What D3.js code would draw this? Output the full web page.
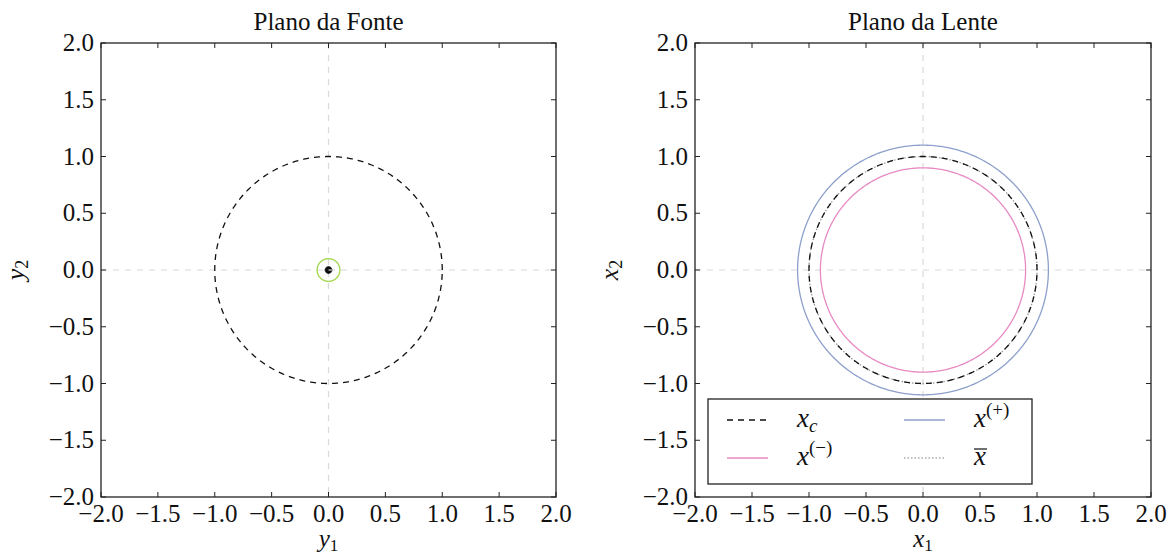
<!DOCTYPE html>
<html><head><meta charset="utf-8">
<script src="https://cdn.jsdelivr.net/npm/d3@7"></script>
<style>
html,body{margin:0;padding:0;background:#fff;}
text{font-family:"Liberation Serif","DejaVu Serif",serif;fill:#111;}
</style></head>
<body><svg id="c" width="1173" height="558"></svg>
<script>
// ---- data ----
const tickValues = [-2, -1.5, -1, -0.5, 0, 0.5, 1, 1.5, 2];
const tickLabels = ["−2.0","−1.5","−1.0","−0.5","0.0","0.5","1.0","1.5","2.0"];
const domain = [-2, 2];
const titles = ["Plano da Fonte", "Plano da Lente"];
const xLabels = [["y","1"], ["x","1"]];
const yLabels = [["y","2"], ["x","2"]];
// source plane
const causticRadius = [1.0];      // dashed caustic
const sourceRadius = [0.1];       // green source circle
const sourceCenterRadius = [0.03];// black center
// lens plane
const criticalRadius = [1.0];     // x_c
const imageMinusRadius = [0.9];   // x^(-)
const imagePlusRadius = [1.1];    // x^(+)
const meanRadius = [1.0];         // x̄
const legendItems = ["xc","xplus","xminus","xbar"];

const svg = d3.select("#c");
const angles = d3.range(0, 361, 1).map(d => d * Math.PI / 180);

const panels = [
  {x0: 101, x1: 556, y0: 43, y1: 497},
  {x0: 695, x1: 1151, y0: 43, y1: 497}
];

function circlePath(xs, ys, r) {
  return d3.line().x(a => xs(r * Math.cos(a))).y(a => ys(r * Math.sin(a)))(angles) + "Z";
}

panels.forEach((p, i) => {
  const xs = d3.scaleLinear().domain(domain).range([p.x0, p.x1]);
  const ys = d3.scaleLinear().domain(domain).range([p.y1, p.y0]);
  const g = svg.append("g");

  // zero lines
  g.append("line").attr("x1", xs(0)).attr("x2", xs(0)).attr("y1", ys(2)).attr("y2", ys(-2))
    .attr("stroke", "#d9d9d9").attr("stroke-width", 1.2).attr("stroke-dasharray", "6,6");
  g.append("line").attr("y1", ys(0)).attr("y2", ys(0)).attr("x1", xs(-2)).attr("x2", xs(2))
    .attr("stroke", "#d9d9d9").attr("stroke-width", 1.2).attr("stroke-dasharray", "6,6");

  if (i === 0) {
    causticRadius.forEach(r => g.append("path").attr("d", circlePath(xs, ys, r))
      .attr("fill", "none").attr("stroke", "#111").attr("stroke-width", 1.3).attr("stroke-dasharray", "6,5"));
    sourceRadius.forEach(r => g.append("path").attr("d", circlePath(xs, ys, r))
      .attr("fill", "none").attr("stroke", "#a6d854").attr("stroke-width", 1.4));
    sourceCenterRadius.forEach(r => {
      g.append("path").attr("d", circlePath(xs, ys, r)).attr("fill", "#111").attr("stroke", "#111").attr("stroke-width", 0.8);
      g.append("line").attr("x1", xs(0)).attr("x2", xs(r)).attr("y1", ys(0)).attr("y2", ys(0))
        .attr("stroke", "#fff").attr("stroke-width", 1);
    });
  } else {
    imagePlusRadius.forEach(r => g.append("path").attr("d", circlePath(xs, ys, r))
      .attr("fill", "none").attr("stroke", "#8da0cb").attr("stroke-width", 1.3));
    imageMinusRadius.forEach(r => g.append("path").attr("d", circlePath(xs, ys, r))
      .attr("fill", "none").attr("stroke", "#e78ac3").attr("stroke-width", 1.3));
    meanRadius.forEach(r => g.append("path").attr("d", circlePath(xs, ys, r))
      .attr("fill", "none").attr("stroke", "#999").attr("stroke-width", 1.3).attr("stroke-dasharray", "1.5,2"));
    criticalRadius.forEach(r => g.append("path").attr("d", circlePath(xs, ys, r))
      .attr("fill", "none").attr("stroke", "#111").attr("stroke-width", 1.3).attr("stroke-dasharray", "6,5"));
  }

  // frame
  g.append("rect").attr("x", xs(-2)).attr("y", ys(2)).attr("width", xs(2) - xs(-2)).attr("height", ys(-2) - ys(2))
    .attr("fill", "none").attr("stroke", "#222").attr("stroke-width", 1.3);

  // inward ticks on all sides
  const tl = 5;
  tickValues.forEach(v => {
    g.append("line").attr("x1", xs(v)).attr("x2", xs(v)).attr("y1", ys(-2)).attr("y2", ys(-2) - tl).attr("stroke", "#222");
    g.append("line").attr("x1", xs(v)).attr("x2", xs(v)).attr("y1", ys(2)).attr("y2", ys(2) + tl).attr("stroke", "#222");
    g.append("line").attr("y1", ys(v)).attr("y2", ys(v)).attr("x1", xs(-2)).attr("x2", xs(-2) + tl).attr("stroke", "#222");
    g.append("line").attr("y1", ys(v)).attr("y2", ys(v)).attr("x1", xs(2)).attr("x2", xs(2) - tl).attr("stroke", "#222");
  });

  // tick labels
  tickValues.forEach((v, k) => {
    g.append("text").attr("x", xs(v)).attr("y", ys(-2) + 25).attr("text-anchor", "middle")
      .attr("font-size", 25).text(tickLabels[k]);
    g.append("text").attr("x", xs(-2) - 7).attr("y", ys(v) + 8).attr("text-anchor", "end")
      .attr("font-size", 25).text(tickLabels[k]);
  });

  // title
  g.append("text").attr("x", (xs(-2) + xs(2)) / 2).attr("y", 30).attr("text-anchor", "middle")
    .attr("font-size", 25).text(titles[i]);

  // x label
  const xl = g.append("text").attr("x", (xs(-2) + xs(2)) / 2).attr("y", 547).attr("text-anchor", "middle").attr("font-size", 25);
  xl.append("tspan").attr("font-style", "italic").text(xLabels[i][0]);
  xl.append("tspan").attr("font-size", 17).attr("dy", 4).text(xLabels[i][1]);

  // y label
  const yl = g.append("text").attr("transform", `translate(${xs(-2) - 77},${ys(0)}) rotate(-90)`)
    .attr("text-anchor", "middle").attr("font-size", 26);
  yl.append("tspan").attr("font-style", "italic").text(yLabels[i][0]);
  yl.append("tspan").attr("font-size", 18).attr("dy", 4).text(yLabels[i][1]);

  if (i === 1) {
    const lg = g.append("g");
    lg.append("rect").attr("x", 708).attr("y", 399).attr("width", 324).attr("height", 85)
      .attr("fill", "#fff").attr("stroke", "#222").attr("stroke-width", 1.3);
    const pos = {
      xc: [727, 420], xplus: [904, 420], xminus: [727, 458], xbar: [904, 458]
    };
    const sty = {
      xc: {c: "#111", d: "6,5"}, xplus: {c: "#8da0cb", d: null},
      xminus: {c: "#e78ac3", d: null}, xbar: {c: "#aaa", d: "1.5,2"}
    };
    legendItems.forEach(k => {
      const [lx, ly] = pos[k];
      lg.append("line").attr("x1", lx).attr("x2", lx + 41).attr("y1", ly).attr("y2", ly)
        .attr("stroke", sty[k].c).attr("stroke-width", 1.3).attr("stroke-dasharray", sty[k].d);
      const t = lg.append("text").attr("x", lx + 70).attr("y", ly + 7).attr("font-size", 27);
      if (k === "xc") {
        t.append("tspan").attr("font-style", "italic").text("x");
        t.append("tspan").attr("font-style", "italic").attr("font-size", 19).attr("dy", 5).text("c");
      } else if (k === "xplus" || k === "xminus") {
        t.append("tspan").attr("font-style", "italic").text("x");
        t.append("tspan").attr("font-size", 19).attr("dy", -11).text(k === "xplus" ? "(+)" : "(−)");
      } else {
        t.append("tspan").attr("font-style", "italic").text("x");
        lg.append("line").attr("x1", lx + 70).attr("x2", lx + 83).attr("y1", ly - 9).attr("y2", ly - 9)
          .attr("stroke", "#111").attr("stroke-width", 1.2);
      }
    });
  }
});
</script></body></html>
